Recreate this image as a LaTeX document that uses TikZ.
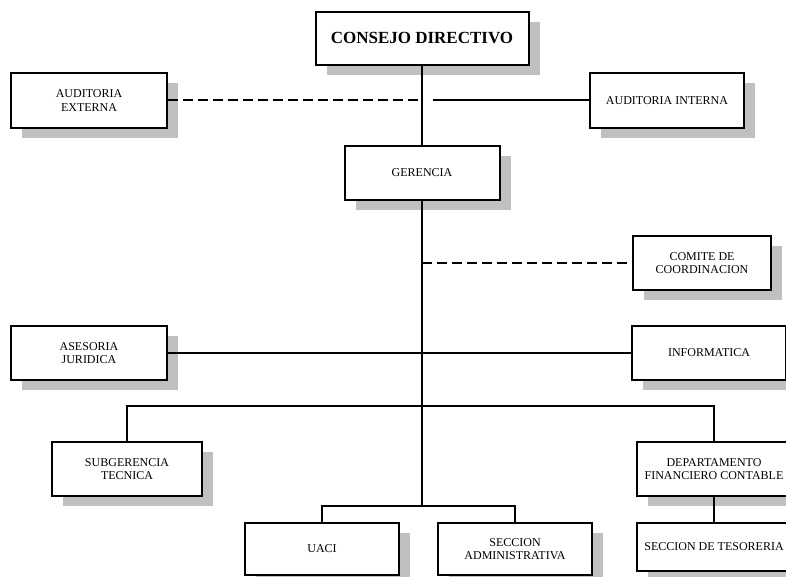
\documentclass[tikz,border=0pt]{standalone}
\usepackage{fontspec}
\setmainfont{Liberation Serif}
\usetikzlibrary{shadows}
\definecolor{shgray}{RGB}{192,192,192}
\tikzset{
  orgbox/.style={draw=black, line width=2pt, fill=white, inner sep=0pt,
    minimum width=154pt, minimum height=54pt, align=center,
    font=\fontsize{12}{13.5}\selectfont,
    drop shadow={shadow xshift=11pt, shadow yshift=-10pt, opacity=1, fill=shgray, draw=none}},
  link/.style={line width=2pt, draw=black},
  dlink/.style={line width=2pt, draw=black, dash pattern=on 10pt off 5pt}
}
\begin{document}
\begin{tikzpicture}[x=1pt,y=-1pt]
\useasboundingbox (0,0) rectangle (786,577);
% nodes
\node[orgbox, minimum width=213pt, minimum height=53pt, font=\fontsize{17}{20}\selectfont\bfseries] (cd) at (422,38.5) {CONSEJO DIRECTIVO};
\node[orgbox, minimum width=156pt, minimum height=55pt] (ae) at (89,100.5) {AUDITORIA\\EXTERNA};
\node[orgbox, minimum height=55pt] (ai) at (667,100.5) {AUDITORIA INTERNA};
\node[orgbox, minimum width=155pt] (ger) at (422,173) {GERENCIA};
\node[orgbox, minimum width=138pt] (com) at (702,263) {COMITE DE\\COORDINACION};
\node[orgbox, minimum width=156pt] (aj) at (89,353) {ASESORIA\\JURIDICA};
\node[orgbox] (inf) at (709,353) {INFORMATICA};
\node[orgbox, minimum width=150pt] (sub) at (127,469) {SUBGERENCIA\\TECNICA};
\node[orgbox] (dep) at (714,469) {DEPARTAMENTO\\FINANCIERO CONTABLE};
\node[orgbox, minimum height=48pt] (tes) at (714,547) {SECCION DE TESORERIA};
\node[orgbox, minimum height=52pt] (uaci) at (322,549) {UACI};
\node[orgbox, minimum height=52pt] (sa) at (515,549) {SECCION\\ADMINISTRATIVA};
% junction coordinates
\coordinate (ja) at (433,100.5);
\coordinate (bj) at (422,406);
\coordinate (bk) at (422,506);
% connectors
\draw[link] (cd.south) -- (ger.north);
\draw[dlink] (ae.east) -- (ae.east -| cd.south);
\draw[link] (ai.west) -- (ja);
\draw[link] (ger.south) -- (bk);
\draw[dlink] (com.west -| ger.south) -- (com.west);
\draw[link] (aj.east) -- (inf.west);
\draw[link] (sub.north) |- (bj) -| (dep.north);
\draw[link] (uaci.north) |- (bk) -| (sa.north);
\draw[link] (dep.south) -- (tes.north);
\end{tikzpicture}
\end{document}
